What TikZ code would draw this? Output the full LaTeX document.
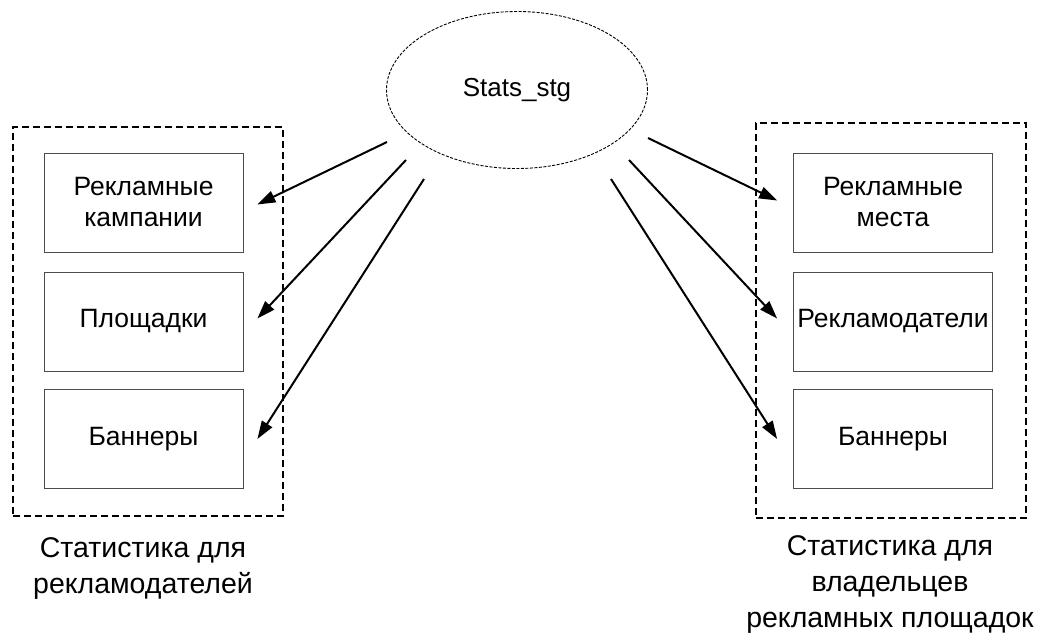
\documentclass[tikz,border=0pt]{standalone}
\usepackage{fontspec}
\setmainfont{Liberation Sans}
\usetikzlibrary{arrows.meta,shapes.geometric}

\begin{document}
\begin{tikzpicture}[x=1pt,y=-1pt,
	table/.style={draw=black!70,line width=0.8pt,minimum width=199pt,minimum height=99pt,inner sep=0pt,align=center,font=\fontsize{26.5}{31}\selectfont},
	group/.style={draw,line width=1.4pt,dash pattern=on 7pt off 4pt,minimum width=270pt,inner sep=0pt},
	source/.style={ellipse,draw,line width=0.9pt,dash pattern=on 3pt off 1.5pt,minimum width=261pt,minimum height=157pt,inner sep=0pt,font=\fontsize{26}{31}\selectfont},
	caption/.style={align=center,font=\fontsize{28.5}{36}\selectfont},
	feed/.style={line width=2pt,-{Triangle[length=18pt,width=12pt]}}]
	\useasboundingbox (0,0) rectangle (1039,635);
	\node [group,minimum height=389pt] (advG) at (148,321.5) {};
	\node [group,minimum height=395pt] (ownG) at (891,320.5) {};
	\node [source] (stg) at (517,90) {Stats\_stg};
	\node [table] (campaigns) at (143.5,202.5) {Рекламные\\кампании};
	\node [table] (sites) at (143.5,321.5) {Площадки};
	\node [table] (bannersL) at (143.5,439) {Баннеры};
	\node [table] (places) at (893,202.5) {Рекламные\\места};
	\node [table] (advertisers) at (893,321.5) {Рекламодатели};
	\node [table] (bannersR) at (893,439) {Баннеры};
	\node [caption] (advCap) at (143,568) {Статистика для\\рекламодателей};
	\node [caption] (ownCap) at (890,584) {Статистика для\\владельцев\\рекламных площадок};
	\coordinate (l1) at (387,142);
	\coordinate (l2) at (406,160);
	\coordinate (l3) at (424,179);
	\coordinate (r1) at (648,138);
	\coordinate (r2) at (629,160);
	\coordinate (r3) at (611,179);
	\draw [feed] (l1) -- ([xshift=14pt,yshift=-2pt]campaigns.east);
	\draw [feed] (l2) -- ([xshift=14pt,yshift=3pt]sites.east);
	\draw [feed] (l3) -- ([xshift=14pt]bannersL.east);
	\draw [feed] (r1) -- ([xshift=-16pt,yshift=2pt]places.west);
	\draw [feed] (r2) -- ([xshift=-16pt,yshift=3pt]advertisers.west);
	\draw [feed] (r3) -- ([xshift=-16pt]bannersR.west);
\end{tikzpicture}
\end{document}
